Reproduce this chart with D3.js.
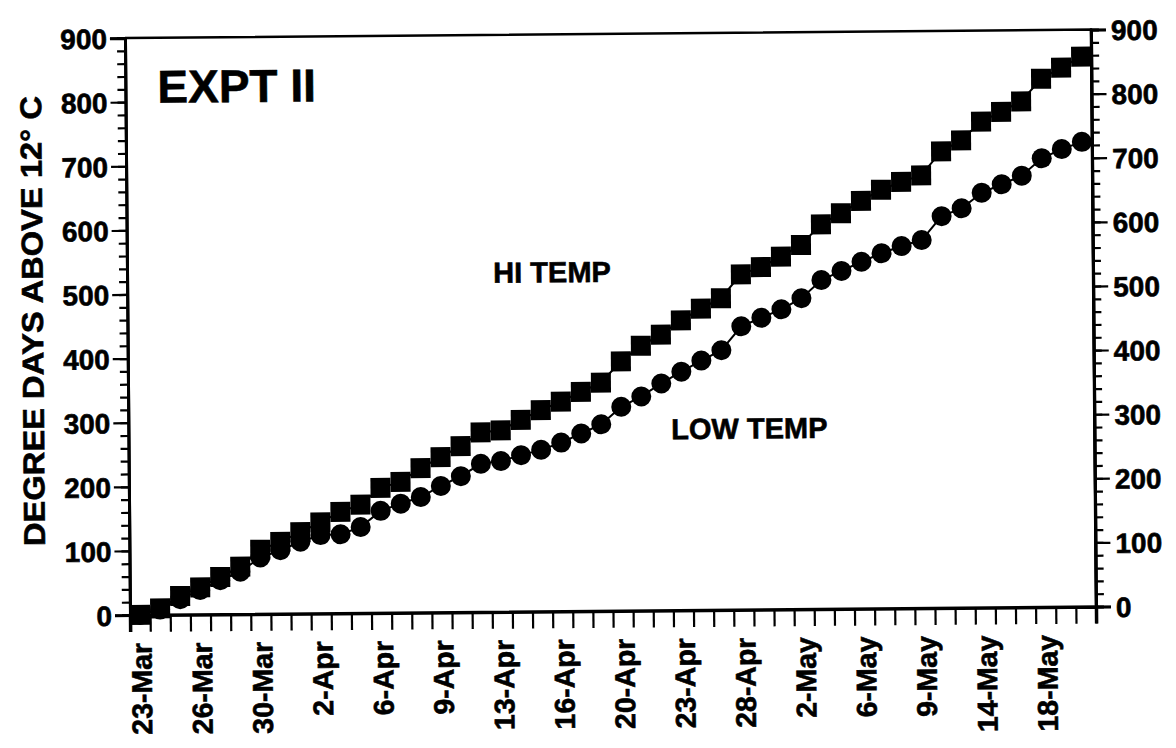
<!DOCTYPE html>
<html>
<head>
<meta charset="utf-8">
<script src="https://cdn.jsdelivr.net/npm/d3@7"></script>
<style>
  html, body { margin: 0; padding: 0; background: #fff; }
  svg { display: block; font-family: "Liberation Sans", Arial, Helvetica, sans-serif; font-weight: bold; }
  svg text { stroke: #000; stroke-width: 0.6px; paint-order: stroke; }
</style>
</head>
<body>
<svg id="chart" width="1176" height="748"></svg>
<script>
// ---- data ----
const xTickLabels = ["23-Mar","26-Mar","30-Mar","2-Apr","6-Apr","9-Apr","13-Apr","16-Apr",
                     "20-Apr","23-Apr","28-Apr","2-May","6-May","9-May","14-May","18-May"];
const labelEvery = 3;      // one label per three sampling dates
const nDates = 48;         // number of sampling dates (categories)

const hiTemp = [0, 10, 29, 42, 58, 74, 100, 112, 127, 142, 158, 169, 195, 204, 225, 242,
                259, 280, 283, 299, 314, 327, 342, 356, 389, 413, 430, 452, 470, 486, 523, 534,
                550, 568, 600, 617, 636, 653, 665, 675, 712, 729, 758, 773, 789, 824, 841, 858];
const lowTemp = [0, 8, 24, 38, 53, 66, 88, 99, 112, 122, 123, 134, 159, 170, 180, 197,
                 212, 231, 235, 244, 252, 263, 277, 291, 318, 334, 354, 372, 389, 405, 442, 455,
                 468, 485, 513, 527, 541, 554, 565, 574, 611, 623, 647, 660, 673, 700, 714, 725];
const yMajorTicks = [0, 100, 200, 300, 400, 500, 600, 700, 800, 900];
const yTitle = "DEGREE DAYS ABOVE 12\u00B0 C";
const panelTitle = "EXPT II";
const seriesLabels = ["HI TEMP", "LOW TEMP"];

// ---- layout ----
const L = 130, R = 1096, T = 38, B = 615;
const svg = d3.select("#chart");
svg.append("rect").attr("width", 1176).attr("height", 748).attr("fill", "#fff");
const g = svg.append("g").attr("transform", `rotate(-0.5,${L},${B})`);

const cats = d3.range(nDates);
const x = d3.scaleBand().domain(cats).range([L, R]).padding(0);
const xEdge = d3.scaleLinear().domain([0, nDates]).range([L, R]);
const y = d3.scaleLinear().domain([0, 900]).range([B, T]);

// frame (top and right)
g.append("path")
  .attr("d", `M${L},${T}H${R}V${B}`)
  .attr("fill", "none").attr("stroke", "#000").attr("stroke-width", 2.5);

function styleAxis(sel, w) {
  sel.selectAll(".domain").attr("stroke", "#000").attr("stroke-width", w);
  sel.selectAll(".tick line").attr("stroke", "#000").attr("stroke-width", 2.2);
  sel.selectAll(".tick text").attr("fill", "#000")
     .style("font-family", '"Liberation Sans", Arial, sans-serif')
     .style("font-weight", "bold").style("font-size", "28px");
}

// left axis
const minorVals = d3.range(0, 901, 20);
g.append("g").attr("transform", `translate(${L},0)`)
  .call(d3.axisLeft(y).tickValues(minorVals).tickSize(8).tickFormat(""))
  .call(s => styleAxis(s, 3));
g.append("g").attr("transform", `translate(${L},0)`)
  .call(d3.axisLeft(y).tickValues(yMajorTicks).tickSize(15).tickPadding(3).tickFormat(d3.format("d")))
  .call(s => styleAxis(s, 3))
  .selectAll(".tick text").attr("dy", "0.36em");

// right axis
g.append("g").attr("transform", `translate(${R},0)`)
  .call(d3.axisRight(y).tickValues(minorVals).tickSize(8).tickFormat(""))
  .call(s => styleAxis(s, 3));
g.append("g").attr("transform", `translate(${R},0)`)
  .call(d3.axisRight(y).tickValues(yMajorTicks).tickSize(15).tickPadding(5).tickFormat(d3.format("d")))
  .call(s => styleAxis(s, 3))
  .selectAll(".tick text").attr("dy", "0.36em");

// bottom axis: ticks at category boundaries
g.append("g").attr("transform", `translate(0,${B})`)
  .call(d3.axisBottom(xEdge).tickValues(d3.range(0, nDates + 1)).tickSize(17).tickFormat(""))
  .call(s => styleAxis(s, 3.5));

// bottom labels (rotated)
g.append("g").selectAll("text")
  .data(xTickLabels)
  .join("text")
  .attr("transform", (d, i) => `translate(${x(i * labelEvery) + x.bandwidth() / 2 + 1},${B + 28}) rotate(-90)`)
  .attr("text-anchor", "end")
  .attr("dy", "0.36em")
  .style("font-size", "28.5px")
  .text(d => d);

// y axis title
svg.append("text")
  .attr("transform", "translate(43,321) rotate(-90.5)")
  .attr("text-anchor", "middle")
  .attr("textLength", 450).attr("lengthAdjust", "spacingAndGlyphs")
  .style("font-size", "30px")
  .text(yTitle);

// lines and markers
const line = d3.line().x((d, i) => x(i) + x.bandwidth() / 2).y(d => y(d));
g.append("path").datum(lowTemp).attr("d", line)
  .attr("fill", "none").attr("stroke", "#000").attr("stroke-width", 2);
g.append("path").datum(hiTemp).attr("d", line)
  .attr("fill", "none").attr("stroke", "#000").attr("stroke-width", 2);

g.append("g").selectAll("circle").data(lowTemp).join("circle")
  .attr("cx", (d, i) => x(i) + x.bandwidth() / 2)
  .attr("cy", d => y(d))
  .attr("r", 10).attr("fill", "#000");

const sq = d3.symbol().type(d3.symbolSquare).size(20 * 20);
g.append("g").selectAll("path").data(hiTemp).join("path")
  .attr("transform", (d, i) => `translate(${x(i) + x.bandwidth() / 2},${y(d)})`)
  .attr("d", sq).attr("fill", "#000");

// annotations
g.append("text").attr("x", 162).attr("y", 103)
  .style("font-size", "46px").text(panelTitle);
g.append("text").attr("x", 555).attr("y", 286).attr("text-anchor", "middle")
  .style("font-size", "29px").text(seriesLabels[0]);
g.append("text").attr("x", 751).attr("y", 444).attr("text-anchor", "middle")
  .style("font-size", "29px").text(seriesLabels[1]);
</script>
</body>
</html>
